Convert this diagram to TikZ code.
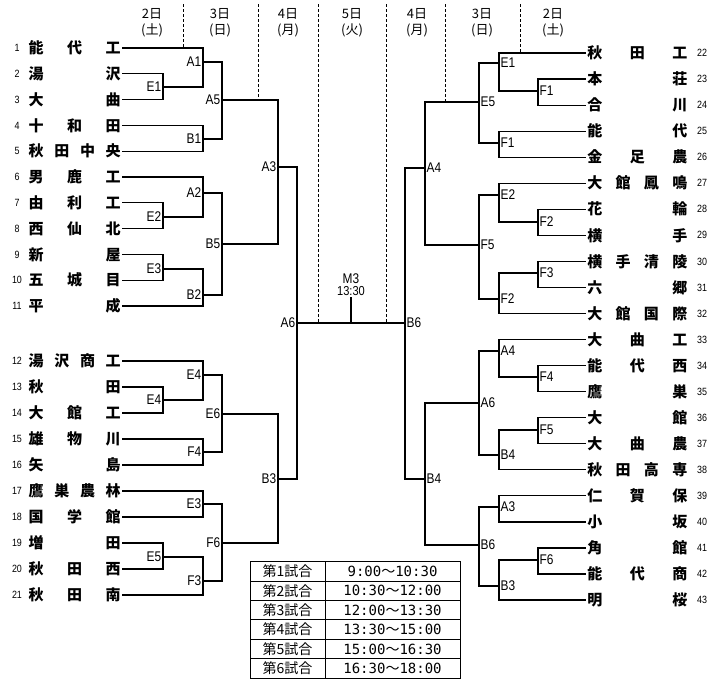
\documentclass[tikz,border=0pt]{standalone}
\usepackage{fontspec}
\setmainfont{Liberation Sans}
\newfontfamily\jp{Noto Sans CJK JP}
\newfontfamily\lab{Liberation Sans}[FakeStretch=0.85]
\newfontfamily\mono{DejaVu Sans Mono}
\usepackage{tikz}
\usetikzlibrary{calc,positioning}
\newcommand{\wv}{{\jp ～}}
\newcommand{\lname}[1]{\makebox[92pt]{#1}}
\newcommand{\rname}[1]{\makebox[100pt]{#1}}

\begin{document}
\begin{tikzpicture}[x=1pt,y=-1pt,
    team/.style={font=\jp\bfseries\fontsize{15}{15}\selectfont,inner sep=1.5pt},
    num/.style={font=\lab\fontsize{10.5}{10.5}\selectfont,inner sep=0pt},
    gl/.style={font=\lab\fontsize{14}{14}\selectfont,inner sep=1.5pt,anchor=east},
    gr/.style={font=\lab\fontsize{14}{14}\selectfont,inner sep=1.5pt,anchor=west},
    brk/.style={line width=1.2pt},
    day/.style={font=\jp\fontsize{13}{16}\selectfont,align=center},
    dayline/.style={dashed,dash pattern=on 3pt off 2pt,line width=0.8pt},
    cella/.style={draw,line width=1pt,minimum width=75pt,minimum height=19.4pt,inner sep=0pt,font=\jp\fontsize{14}{14}\selectfont},
    cellb/.style={draw,line width=1pt,minimum width=135pt,minimum height=19.4pt,inner sep=0pt,font=\mono\fontsize{14}{14}\selectfont}]
      \useasboundingbox (0,0) rectangle (719,696);
      \foreach \x/\dn/\wk [count=\i] in {152/2/土,220/3/日,288/4/月,352/5/火,417/4/月,482/3/日,553/2/土}
        \node[day] (d\i) at (\x,23) {\dn 日\\(\wk)};
      \draw[dayline] (183,4)--(183,48);
      \draw[dayline] (258,4)--(258,100);
      \draw[dayline] (318,4)--(318,323);
      \draw[dayline] (386,4)--(386,323);
      \draw[dayline] (445,4)--(445,102);
      \draw[dayline] (520,4)--(520,53);
      \foreach \nm [count=\i] in {能\hfill 代\hfill 工,湯\hfill 沢,大\hfill 曲,十\hfill 和\hfill 田,秋\hfill 田\hfill 中\hfill 央,男\hfill 鹿\hfill 工,由\hfill 利\hfill 工,西\hfill 仙\hfill 北,新\hfill 屋,五\hfill 城\hfill 目,平\hfill 成,湯\hfill 沢\hfill 商\hfill 工,秋\hfill 田,大\hfill 館\hfill 工,雄\hfill 物\hfill 川,矢\hfill 島,鷹\hfill 巣\hfill 農\hfill 林,国\hfill 学\hfill 館,増\hfill 田,秋\hfill 田\hfill 西,秋\hfill 田\hfill 南} {
        \pgfmathsetmacro\yy{\i<12 ? 48+(\i-1)*25.8 : 361+(\i-12)*26}
        \node[team,anchor=west] (l\i) at (27,\yy) {\lname{\nm}};
        \node[num] (nl\i) at (17,\yy) {\i};
      }
      \foreach \nm [count=\i from 22] in {秋\hfill 田\hfill 工,本\hfill 荘,合\hfill 川,能\hfill 代,金\hfill 足\hfill 農,大\hfill 館\hfill 鳳\hfill 鳴,花\hfill 輪,横\hfill 手,横\hfill 手\hfill 清\hfill 陵,六\hfill 郷,大\hfill 館\hfill 国\hfill 際,大\hfill 曲\hfill 工,能\hfill 代\hfill 西,鷹\hfill 巣,大\hfill 館,大\hfill 曲\hfill 農,秋\hfill 田\hfill 高\hfill 専,仁\hfill 賀\hfill 保,小\hfill 坂,角\hfill 館,能\hfill 代\hfill 商,明\hfill 桜} {
        \pgfmathsetmacro\yy{53+(\i-22)*26.05}
        \node[team,anchor=east] (r\i) at (689,\yy) {\rname{\nm}};
        \node[num] (nr\i) at (702,\yy) {\i};
      }
      \coordinate (lE1) at (163,87);
      \coordinate (lA1) at (203,62);
      \coordinate (lB1) at (203,139);
      \coordinate (lA5) at (222,100);
      \coordinate (lE2) at (163,217);
      \coordinate (lA2) at (203,193);
      \coordinate (lE3) at (163,269);
      \coordinate (lB2) at (203,295);
      \coordinate (lB5) at (222,244);
      \coordinate (lA3) at (278,167);
      \coordinate (lE4b) at (163,400);
      \coordinate (lE4) at (203,375);
      \coordinate (lF4) at (203,452);
      \coordinate (lE6) at (222,414);
      \coordinate (lE3b) at (203,504);
      \coordinate (lE5) at (163,557);
      \coordinate (lF3) at (203,581);
      \coordinate (lF6) at (222,543);
      \coordinate (lB3) at (278,479);
      \coordinate (lA6) at (297,323);
      \coordinate (rF1) at (538,91);
      \coordinate (rE1) at (499,63);
      \coordinate (rF1b) at (499,143);
      \coordinate (rE5) at (479,102);
      \coordinate (rF2) at (538,222);
      \coordinate (rE2) at (499,195);
      \coordinate (rF3) at (538,273);
      \coordinate (rF2b) at (499,299);
      \coordinate (rF5) at (479,245);
      \coordinate (rA4) at (425,168);
      \coordinate (rF4) at (538,377);
      \coordinate (rA4b) at (499,351);
      \coordinate (rF5b) at (538,430);
      \coordinate (rB4) at (499,455);
      \coordinate (rA6) at (479,403);
      \coordinate (rA3) at (499,507);
      \coordinate (rF6) at (538,560);
      \coordinate (rB3) at (499,586);
      \coordinate (rB6) at (479,545);
      \coordinate (rB4b) at (425,479);
      \coordinate (rB6b) at (405,323);
      \foreach \cn/\tx in {lE1/E1,lA1/A1,lB1/B1,lA5/A5,lE2/E2,lA2/A2,lE3/E3,lB2/B2,lB5/B5,lA3/A3,lE4b/E4,lE4/E4,lF4/F4,lE6/E6,lE3b/E3,lE5/E5,lF3/F3,lF6/F6,lB3/B3,lA6/A6}
        \node[gl] (t\cn) at (\cn) {\tx};
      \foreach \cn/\tx in {rF1/F1,rE1/E1,rF1b/F1,rE5/E5,rF2/F2,rE2/E2,rF3/F3,rF2b/F2,rF5/F5,rA4/A4,rF4/F4,rA4b/A4,rF5b/F5,rB4/B4,rA6/A6,rA3/A3,rF6/F6,rB3/B3,rB6/B6,rB4b/B4,rB6b/B6}
        \node[gr] (t\cn) at (\cn) {\tx};
      \draw[brk] (l2.east) -| (lE1) |- (l3.east);
      \draw[brk] (l1.east) -| (lA1) |- (lE1);
      \draw[brk] (l4.east) -| (lB1) |- (l5.east);
      \draw[brk] (lA1) -| (lA5) |- (lB1);
      \draw[brk] (l7.east) -| (lE2) |- (l8.east);
      \draw[brk] (l6.east) -| (lA2) |- (lE2);
      \draw[brk] (l9.east) -| (lE3) |- (l10.east);
      \draw[brk] (lE3) -| (lB2) |- (l11.east);
      \draw[brk] (lA2) -| (lB5) |- (lB2);
      \draw[brk] (lA5) -| (lA3) |- (lB5);
      \draw[brk] (l13.east) -| (lE4b) |- (l14.east);
      \draw[brk] (l12.east) -| (lE4) |- (lE4b);
      \draw[brk] (l15.east) -| (lF4) |- (l16.east);
      \draw[brk] (lE4) -| (lE6) |- (lF4);
      \draw[brk] (l17.east) -| (lE3b) |- (l18.east);
      \draw[brk] (l19.east) -| (lE5) |- (l20.east);
      \draw[brk] (lE5) -| (lF3) |- (l21.east);
      \draw[brk] (lE3b) -| (lF6) |- (lF3);
      \draw[brk] (lE6) -| (lB3) |- (lF6);
      \draw[brk] (lA3) -| (lA6) |- (lB3);
      \draw[brk] (r23.west) -| (rF1) |- (r24.west);
      \draw[brk] (r22.west) -| (rE1) |- (rF1);
      \draw[brk] (r25.west) -| (rF1b) |- (r26.west);
      \draw[brk] (rE1) -| (rE5) |- (rF1b);
      \draw[brk] (r28.west) -| (rF2) |- (r29.west);
      \draw[brk] (r27.west) -| (rE2) |- (rF2);
      \draw[brk] (r30.west) -| (rF3) |- (r31.west);
      \draw[brk] (rF3) -| (rF2b) |- (r32.west);
      \draw[brk] (rE2) -| (rF5) |- (rF2b);
      \draw[brk] (rE5) -| (rA4) |- (rF5);
      \draw[brk] (r34.west) -| (rF4) |- (r35.west);
      \draw[brk] (r33.west) -| (rA4b) |- (rF4);
      \draw[brk] (r36.west) -| (rF5b) |- (r37.west);
      \draw[brk] (rF5b) -| (rB4) |- (r38.west);
      \draw[brk] (rA4b) -| (rA6) |- (rB4);
      \draw[brk] (r39.west) -| (rA3) |- (r40.west);
      \draw[brk] (r41.west) -| (rF6) |- (r42.west);
      \draw[brk] (rF6) -| (rB3) |- (r43.west);
      \draw[brk] (rA3) -| (rB6) |- (rB3);
      \draw[brk] (rA6) -| (rB4b) |- (rB6);
      \draw[brk] (rA4) -| (rB6b) |- (rB4b);
      \draw[brk] (lA6) -- (rB6b);
      \node[font=\lab\fontsize{13}{13}\selectfont,anchor=south,inner sep=1pt] (mtt) at (351,297) {13:30};
      \node[font=\lab\fontsize{14}{14}\selectfont,above=0.5pt of mtt,inner sep=1pt] (mt) {M3};
      \draw[brk] (mtt.south) -- (mtt.south |- lA6);
      \foreach \g/\tx [count=\i] in {1/9:00\wv10:30,2/10:30\wv12:00,3/12:00\wv13:30,4/13:30\wv15:00,5/15:00\wv16:30,6/16:30\wv18:00} {
        \node[cella] (g\i) at (287.5,{571.4+(\i-1)*19.4}) {第\g 試合};
        \node[cellb] (s\i) at (392.5,{571.4+(\i-1)*19.4}) {\tx};
      }
    \end{tikzpicture}
\end{document}
